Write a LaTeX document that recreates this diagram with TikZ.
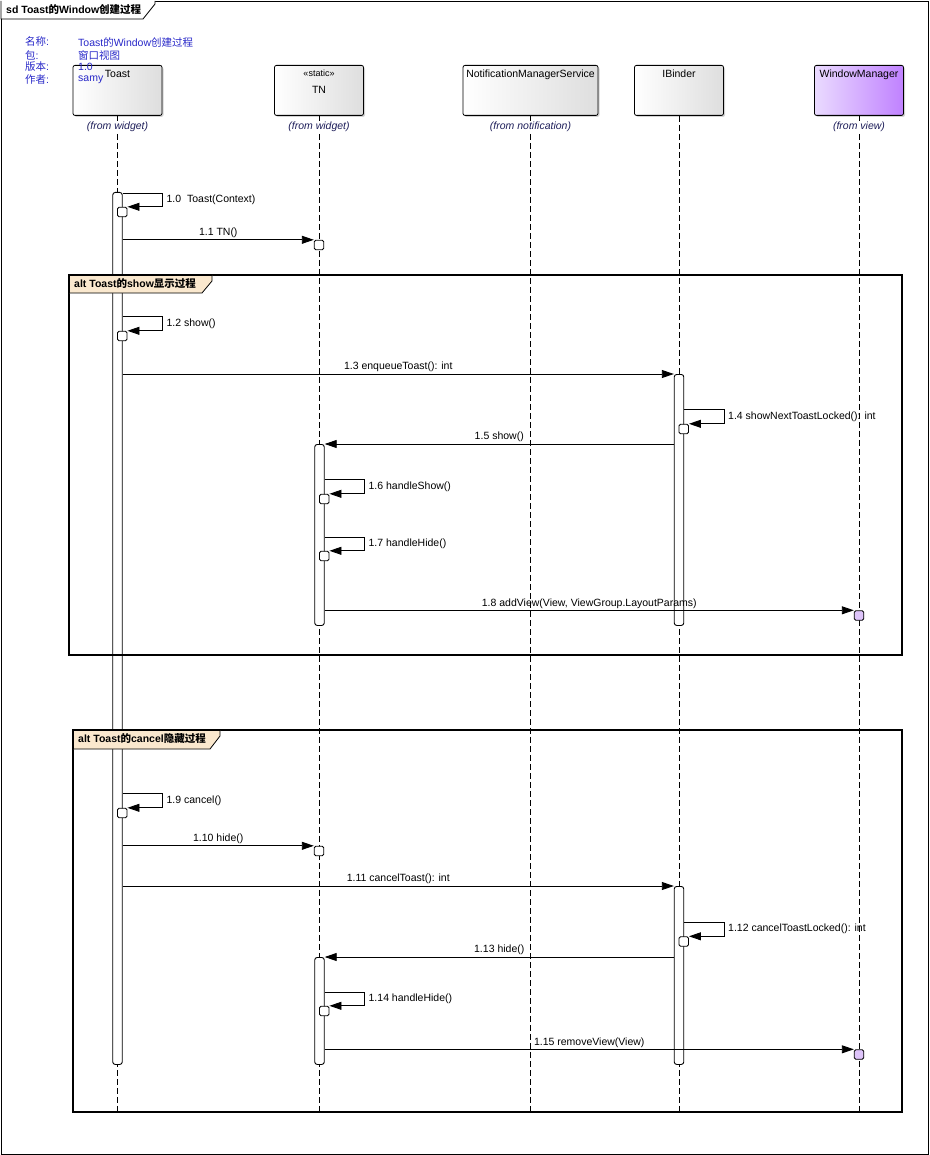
\documentclass[tikz,border=0pt]{standalone}
\usepackage{fontspec}
\setmainfont{Liberation Sans}
\newfontfamily\cjk{Noto Sans CJK SC}
\usetikzlibrary{positioning}
\usetikzlibrary{arrows.meta}
\usetikzlibrary{shadows}
\definecolor{infoblue}{RGB}{40,40,200}
\definecolor{fromblue}{RGB}{30,30,90}
\definecolor{tabfill}{RGB}{250,232,206}
\definecolor{wmlight}{RGB}{234,218,255}
\definecolor{wmdark}{RGB}{192,130,255}
\definecolor{wmact}{RGB}{222,196,250}

\begin{document}
\begin{tikzpicture}
[x=1pt,y=-1pt,
 font=\fontsize{10.5}{12}\selectfont,
 head/.style={draw,line width=0.8pt,rounded corners=2pt,anchor=north,
   minimum width=89pt,minimum height=50pt,
   left color=white,right color=black!13,
   drop shadow={shadow xshift=1.5pt,shadow yshift=-1.5pt,opacity=0.35}},
 wmhead/.style={head,left color=wmlight,right color=wmdark},
 headtext/.style={anchor=north,inner sep=1pt,align=center},
 origin/.style={fill=white,inner sep=1pt,text=fromblue,
   font=\fontsize{10.5}{12}\selectfont\itshape},
 info/.style={anchor=west,inner sep=0pt,text=infoblue},
 lifeline/.style={line width=0.8pt,dash pattern=on 6pt off 3pt},
 bar/.style={draw,fill=white,line width=0.9pt,rounded corners=2.5pt,
   anchor=north,minimum width=9.5pt,inner sep=0pt},
 sub/.style={draw,fill=white,line width=0.9pt,rounded corners=1.5pt,
   minimum size=9.5pt,inner sep=0pt},
 wmsub/.style={sub,fill=wmact},
 msg/.style={line width=0.9pt,-{Triangle[length=12pt,width=8pt]}},
 lbl/.style={inner sep=1.5pt},
 selflbl/.style={lbl,anchor=west,pos=0.25,xshift=2pt},
 altframe/.style={line width=2pt},
 tab/.style={line width=0.8pt,fill=tabfill},
 tabtext/.style={anchor=west,inner sep=0pt,
   font=\fontsize{10.5}{12}\selectfont\bfseries}]

\useasboundingbox (0,0) rectangle (929,1155);

% diagram frame
\draw [line width=0.8pt] (1,1) rectangle (928,1154);
\draw [line width=0.8pt,fill=white] (1,1) -- (1,19) -- (143,19) -- (155,4) -- (155,1);
\draw (6,10) node (sdtitle) [tabtext] {sd Toast{\cjk 的}Window{\cjk 创建过程}};

% heads
\draw (117.5,65) node (toast) [head] {};
\draw (319,65) node (tn) [head] {};
\draw (530.5,65) node (nms) [head,minimum width=135pt] {};
\draw (679,65) node (ib) [head] {};
\draw (859,65) node (wm) [wmhead] {};

\node (toastname) [headtext,below=4pt of toast.north] {Toast};
\node (tnname) [headtext,below=4pt of tn.north]
  {{\fontsize{9}{10}\selectfont «static»}\\[5pt]TN};
\node (nmsname) [headtext,below=4pt of nms.north] {NotificationManagerService};
\node (ibname) [headtext,below=4pt of ib.north] {IBinder};
\node (wmname) [headtext,below=4pt of wm.north] {WindowManager};

% info
\draw (25,42) node (k1) [info] {{\cjk 名称}:}
      (78,42) node (v1) [info] {Toast{\cjk 的}Window{\cjk 创建过程}};
\draw (25,55) node (k2) [info] {{\cjk 包}:}
      (78,55) node (v2) [info] {\cjk 窗口视图};
\draw (25,67) node (k3) [info] {{\cjk 版本}:}
      (78,67) node (v3) [info] {1.0};
\draw (25,80) node (k4) [info] {{\cjk 作者}:}
      (78,80) node (v4) [info] {samy};

% lifelines
\coordinate (toastend) at (117.5,1112);
\coordinate (tnend) at (319,1112);
\coordinate (nmsend) at (530.5,1112);
\coordinate (ibend) at (679,1112);
\coordinate (wmend) at (859,1112);
\draw [lifeline] (toast.south) -- (toastend);
\draw [lifeline] (tn.south) -- (tnend);
\draw [lifeline] (nms.south) -- (nmsend);
\draw [lifeline] (ib.south) -- (ibend);
\draw [lifeline] (wm.south) -- (wmend);

\draw (117.5,127) node (toastfrom) [origin] {(from widget)};
\draw (319,127) node (tnfrom) [origin] {(from widget)};
\draw (530.5,127) node (nmsfrom) [origin] {(from notification)};
\draw (859,127) node (wmfrom) [origin] {(from view)};

% activations
\draw (117.5,192) node (toastbar) [bar,minimum height=872pt] {};
\draw (319.5,444) node (tnbar1) [bar,minimum height=181pt] {};
\draw (319.5,957) node (tnbar2) [bar,minimum height=107pt] {};
\draw (679,374) node (ibbar1) [bar,minimum height=251pt] {};
\draw (679,886) node (ibbar2) [bar,minimum height=178pt] {};

% alt fragments
\draw [altframe] (69,275) rectangle (902,655);
\draw [tab] (69,275) -- (212,275) -- (212,281) -- (202,293) -- (69,293) -- cycle;
\draw [altframe] (69,275) -- (212,275) (69,275) -- (69,293);
\draw (74,284) node (alt1) [tabtext] {alt Toast{\cjk 的}show{\cjk 显示过程}};

\draw [altframe] (73,730) rectangle (902,1112);
\draw [tab] (73,730) -- (220,730) -- (220,736) -- (210,749) -- (73,749) -- cycle;
\draw [altframe] (73,730) -- (220,730) (73,730) -- (73,749);
\draw (78,739) node (alt2) [tabtext] {alt Toast{\cjk 的}cancel{\cjk 隐藏过程}};

% nested activations
\draw (122.25,212) node (tsub1) [sub] {};
\draw (319,245) node (tnsub1) [sub] {};
\draw (122.25,336) node (tsub2) [sub] {};
\draw (683.75,429) node (ibsub1) [sub] {};
\draw (324.25,499) node (tnsub3) [sub] {};
\draw (324.25,556) node (tnsub4) [sub] {};
\draw (859,615.5) node (wmsub1) [wmsub] {};
\draw (122.25,813) node (tsub3) [sub] {};
\draw (319,851) node (tnsub2) [sub] {};
\draw (683.75,941.5) node (ibsub2) [sub] {};
\draw (324.25,1011) node (tnsub5) [sub] {};
\draw (859,1054.5) node (wmsub2) [wmsub] {};

% messages
\draw [msg] (toastbar.east |- 0,193) -- ++(40,0)
  |- node [selflbl] {1.0 \ Toast(Context)} (tsub1.north east);
\draw [msg] (toastbar.east |- tnsub1.north west) -- (tnsub1.north west)
  node [lbl,midway,above] {1.1 TN()};
\draw [msg] (toastbar.east |- 0,316) -- ++(40,0)
  |- node [selflbl] {1.2 show()} (tsub2.north east);
\draw [msg] (toastbar.east |- ibbar1.north west) -- (ibbar1.north west)
  node [lbl,midway,above] {1.3 enqueueToast(): int};
\draw [msg] (ibbar1.east |- 0,409) -- ++(40,0)
  |- node [selflbl] {1.4 showNextToastLocked(): int} (ibsub1.north east);
\draw [msg] (ibbar1.west |- tnbar1.north east) -- (tnbar1.north east)
  node [lbl,midway,above] {1.5 show()};
\draw [msg] (tnbar1.east |- 0,479) -- ++(40,0)
  |- node [selflbl] {1.6 handleShow()} (tnsub3.north east);
\draw [msg] (tnbar1.east |- 0,537) -- ++(40,0)
  |- node [selflbl] {1.7 handleHide()} (tnsub4.north east);
\draw [msg] (tnbar1.east |- wmsub1.north west) -- (wmsub1.north west)
  node [lbl,midway,above] {1.8 addView(View, ViewGroup.LayoutParams)};

\draw [msg] (toastbar.east |- 0,793) -- ++(40,0)
  |- node [selflbl] {1.9 cancel()} (tsub3.north east);
\draw [msg] (toastbar.east |- tnsub2.north west) -- (tnsub2.north west)
  node [lbl,midway,above] {1.10 hide()};
\draw [msg] (toastbar.east |- ibbar2.north west) -- (ibbar2.north west)
  node [lbl,midway,above] {1.11 cancelToast(): int};
\draw [msg] (ibbar2.east |- 0,922) -- ++(40,0)
  |- node [selflbl] {1.12 cancelToastLocked(): int} (ibsub2.north east);
\draw [msg] (ibbar2.west |- tnbar2.north east) -- (tnbar2.north east)
  node [lbl,midway,above] {1.13 hide()};
\draw [msg] (tnbar2.east |- 0,992) -- ++(40,0)
  |- node [selflbl] {1.14 handleHide()} (tnsub5.north east);
\draw [msg] (tnbar2.east |- wmsub2.north west) -- (wmsub2.north west)
  node [lbl,midway,above] {1.15 removeView(View)};
\end{tikzpicture}
\end{document}
